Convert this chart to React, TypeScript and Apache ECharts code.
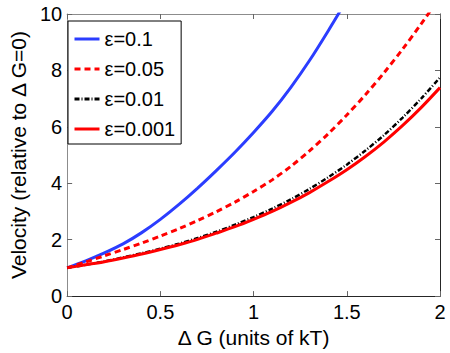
import React, { useEffect, useRef } from "react";
import * as echarts from "echarts";

const xs = [0, 0.1, 0.2, 0.3, 0.4, 0.5, 0.6, 0.7, 0.8, 0.9, 1.0, 1.1, 1.2, 1.3, 1.4, 1.5, 1.6, 1.7, 1.8, 1.9, 2.0];

const eps01 = [1.0, 1.25, 1.53, 1.85, 2.25, 2.72, 3.25, 3.83, 4.45, 5.1, 5.8, 6.55, 7.4, 8.35, 9.4, 10.5];
const eps005 = [1.0, 1.21, 1.43, 1.65, 1.88, 2.13, 2.39, 2.68, 2.99, 3.33, 3.71, 4.12, 4.6, 5.15, 5.75, 6.42, 7.14, 7.92, 8.76, 9.66, 10.6];
const eps001 = [1.0, 1.11, 1.23, 1.37, 1.52, 1.68, 1.86, 2.06, 2.28, 2.53, 2.8, 3.1, 3.43, 3.8, 4.21, 4.66, 5.16, 5.71, 6.33, 7.01, 7.75];
const eps0001 = [1.0, 1.11, 1.22, 1.35, 1.49, 1.65, 1.82, 2.01, 2.23, 2.46, 2.72, 3.0, 3.32, 3.67, 4.06, 4.48, 4.95, 5.47, 6.05, 6.69, 7.39];

const seriesNames = ["ε=0.1", "ε=0.05", "ε=0.01", "ε=0.001"];

const xTitle = "Δ G (units of kT)";
const yTitle = "Velocity (relative to Δ G=0)";

const FONT = "'Liberation Sans', Arial, sans-serif";

function pairs(vals: number[]) {
  return vals.map((v, i) => [xs[i], v]);
}

export default function App() {
  const ref = useRef<HTMLDivElement>(null);
  useEffect(() => {
    if (!ref.current) return;
    const chart = echarts.init(ref.current, undefined, { renderer: "svg" });
    const grid = { left: 60, right: 10, top: 14, bottom: 51 };
    const tickStyle = { show: true, inside: true, length: 5, lineStyle: { color: "#666", width: 1 } };
    chart.setOption({
      animation: false,
      backgroundColor: "#fff",
      textStyle: { fontFamily: FONT },
      grid,
      legend: {
        left: 68,
        top: 21,
        orient: "vertical",
        data: seriesNames,
        backgroundColor: "#fff",
        borderColor: "#000",
        borderWidth: 1,
        borderRadius: 0,
        padding: [8, 6, 5, 5],
        itemWidth: 25,
        itemHeight: 14,
        itemGap: 10,
        itemStyle: { opacity: 0 },
        lineStyle: { width: 3 },
        textStyle: { fontSize: 20, color: "#000", fontFamily: FONT, lineHeight: 18 },
      },
      xAxis: [
        {
          type: "value",
          min: 0,
          max: 2,
          interval: 0.5,
          position: "bottom",
          name: xTitle,
          nameLocation: "middle",
          nameGap: 27,
          nameTextStyle: { fontSize: 21, color: "#000", fontFamily: FONT },
          axisLine: { show: true, onZero: false, lineStyle: { color: "#262626", width: 1 } },
          axisTick: tickStyle,
          axisLabel: { fontSize: 20, color: "#000", margin: 6, fontFamily: FONT },
          splitLine: { show: false },
        },
        {
          type: "value",
          min: 0,
          max: 2,
          interval: 0.5,
          position: "top",
          axisLine: { show: true, onZero: false, lineStyle: { color: "#8c8c8c", width: 1 } },
          axisTick: tickStyle,
          axisLabel: { show: false },
          splitLine: { show: false },
        },
      ],
      yAxis: [
        {
          type: "value",
          min: 0,
          max: 10,
          interval: 2,
          position: "left",
          name: yTitle,
          nameLocation: "middle",
          nameGap: 32,
          nameTextStyle: { fontSize: 21, color: "#000", fontFamily: FONT },
          axisLine: { show: true, onZero: false, lineStyle: { color: "#8c8c8c", width: 1 } },
          axisTick: tickStyle,
          axisLabel: { fontSize: 20, color: "#000", margin: 5, fontFamily: FONT },
          splitLine: { show: false },
        },
        {
          type: "value",
          min: 0,
          max: 10,
          interval: 2,
          position: "right",
          axisLine: { show: true, onZero: false, lineStyle: { color: "#262626", width: 1 } },
          axisTick: tickStyle,
          axisLabel: { show: false },
          splitLine: { show: false },
        },
      ],
      series: [
        {
          name: seriesNames[0],
          type: "line",
          data: pairs(eps01),
          symbol: "none",
          smooth: 0.3,
          clip: true,
          lineStyle: { color: "#2b3dff", width: 3, type: "solid" },
          itemStyle: { color: "#2b3dff" },
        },
        {
          name: seriesNames[1],
          type: "line",
          data: pairs(eps005),
          symbol: "none",
          smooth: 0.3,
          clip: true,
          lineStyle: { color: "#ff0000", width: 3, type: [6, 4], cap: "butt" },
          itemStyle: { color: "#ff0000" },
        },
        {
          name: seriesNames[2],
          type: "line",
          data: pairs(eps001),
          symbol: "none",
          smooth: 0.3,
          clip: true,
          lineStyle: { color: "#000000", width: 2.5, type: [5, 2, 1, 2], cap: "butt" },
          itemStyle: { color: "#000000" },
        },
        {
          name: seriesNames[3],
          type: "line",
          data: pairs(eps0001),
          symbol: "none",
          smooth: 0.3,
          clip: true,
          lineStyle: { color: "#ff0000", width: 3, type: "solid" },
          itemStyle: { color: "#ff0000" },
        },
      ],
    });
    return () => chart.dispose();
  }, []);
  return (
    <div
      ref={ref}
      style={{ position: "absolute", left: 0, top: 0, width: 450, height: 353, background: "#fff" }}
    />
  );
}
